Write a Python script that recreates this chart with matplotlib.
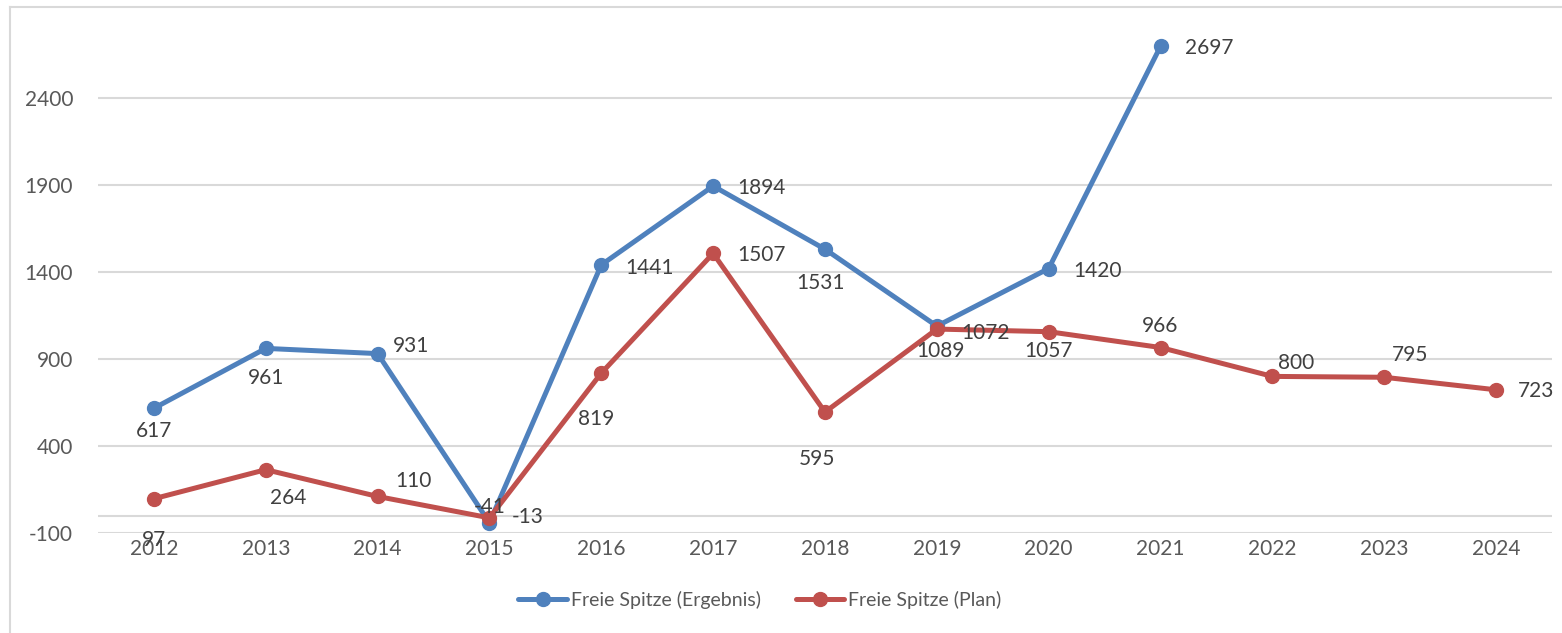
import matplotlib
matplotlib.use("Agg")
import matplotlib.pyplot as plt
from matplotlib.lines import Line2D

plt.rcParams['font.family'] = ['Lato', 'DejaVu Sans']

years = [2012, 2013, 2014, 2015, 2016, 2017, 2018, 2019, 2020, 2021, 2022, 2023, 2024]
ergebnis = [617, 961, 931, -41, 1441, 1894, 1531, 1089, 1420, 2697]
plan = [97, 264, 110, -13, 819, 1507, 595, 1072, 1057, 966, 800, 795, 723]
y_ticks = [-100, 400, 900, 1400, 1900, 2400]
series_names = ["Freie Spitze (Ergebnis)", "Freie Spitze (Plan)"]

# label offsets in pixels (dx, dy) and horizontal alignment
erg_off = [(0, -23, 'center'), (0, -30, 'center'), (15, 8, 'left'), (0, 16, 'center'),
           (24, -3, 'left'), (24, -2, 'left'), (-4, -34, 'center'), (4, -25, 'center'),
           (25, -2, 'left'), (24, -2, 'left')]
plan_off = [(0, -41, 'center'), (22, -28, 'center'), (18, 15, 'left'), (22, 1, 'left'),
            (-5, -46, 'center'), (24, -2, 'left'), (-8, -47, 'center'), (24, -4, 'left'),
            (0, -19, 'center'), (0, 22, 'center'), (6, 13, 'left'), (8, 22, 'left'),
            (22, -1, 'left')]

blue = '#4F81BD'
red = '#C0504D'
txt = '#404040'
tick_c = '#595959'

fig = plt.figure(figsize=(15.62, 6.33), dpi=100)
ax = fig.add_axes([98/1562, 100/633, (1552-98)/1562, (533-11)/633])

x = list(range(len(years)))
ax.plot(x[:len(ergebnis)], ergebnis, color=blue, lw=3.6, marker='o', ms=10,
        solid_capstyle='round', label=series_names[0], zorder=3)
ax.plot(x, plan, color=red, lw=3.6, marker='o', ms=10,
        solid_capstyle='round', label=series_names[1], zorder=4)

for i, v in enumerate(ergebnis):
    dx, dy, ha = erg_off[i]
    ax.annotate(str(v), (x[i], v), xytext=(dx, dy), textcoords='offset pixels',
                ha=ha, va='center', fontsize=15, color=txt, zorder=5)
for i, v in enumerate(plan):
    dx, dy, ha = plan_off[i]
    ax.annotate(str(v), (x[i], v), xytext=(dx, dy), textcoords='offset pixels',
                ha=ha, va='center', fontsize=15, color=txt, zorder=5)

ax.set_xlim(-0.5, len(years) - 0.5)
ax.set_ylim(-100, 2900)
ax.set_yticks(y_ticks)
ax.set_yticklabels([str(t) for t in y_ticks])
ax.set_xticks(x)
ax.set_xticklabels([str(y) for y in years])
ax.tick_params(axis='both', length=0, labelsize=15, colors=tick_c)
ax.tick_params(axis='y', pad=18)
ax.tick_params(axis='x', pad=4)
for s in ax.spines.values():
    s.set_visible(False)
ax.grid(axis='y', color='#D9D9D9', lw=1.5, zorder=0)
ax.axhline(0, color='#D9D9D9', lw=1.5, zorder=1)

leg = fig.legend(loc='center', bbox_to_anchor=(760/1562, 33/633), ncol=2, frameon=False,
                 fontsize=14, handlelength=2.5, columnspacing=1.8, handletextpad=0.2)
for t in leg.get_texts():
    t.set_color(tick_c)

fig.add_artist(Line2D([10/1562, 10/1562], [0, 1 - 7/633], transform=fig.transFigure,
                      color='#D9D9D9', lw=1.5))
fig.add_artist(Line2D([10/1562, 1], [1 - 7/633, 1 - 7/633], transform=fig.transFigure,
                      color='#D9D9D9', lw=1.5))

fig.savefig('out.png', dpi=100)
